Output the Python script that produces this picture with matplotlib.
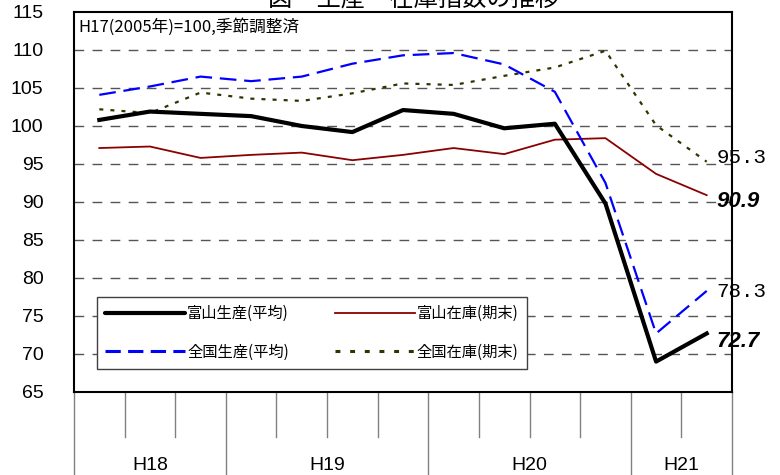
import matplotlib
matplotlib.use('Agg')
import matplotlib.pyplot as plt
from matplotlib.lines import Line2D
import matplotlib.transforms as mtransforms

jp = ['Noto Sans CJK JP', 'DejaVu Sans']
plt.rcParams['font.family'] = ['Liberation Sans', 'DejaVu Sans']

# quarterly index values (H18 Q2 .. H21 Q1)
toyama_prod = [100.8, 101.9, 101.6, 101.3, 100.0, 99.2, 102.1, 101.6, 99.7, 100.3, 89.8, 69.0, 72.7]
toyama_stock = [97.1, 97.3, 95.8, 96.2, 96.5, 95.5, 96.2, 97.1, 96.3, 98.2, 98.4, 93.7, 90.9]
japan_prod = [104.1, 105.2, 106.5, 105.9, 106.5, 108.2, 109.3, 109.6, 108.1, 104.5, 92.5, 72.7, 78.3]
japan_stock = [102.2, 101.7, 104.4, 103.6, 103.3, 104.3, 105.6, 105.4, 106.6, 107.7, 109.9, 100.1, 95.3]

years = ['H18', 'H19', 'H20', 'H21']
year_len = [3, 4, 4, 2]
labels = ['富山生産(平均)', '富山在庫(期末)', '全国生産(平均)', '全国在庫(期末)']

fig = plt.figure(figsize=(7.8, 4.75), dpi=100)
ax = fig.add_axes([74/780, 1-392/475, 658/780, 380/475])

x = list(range(len(toyama_prod)))
ax.set_xlim(-0.5, len(x)-0.5)
ax.set_ylim(65, 115)
ax.set_yticks(range(65, 120, 5))
ax.set_xticks([])
ax.tick_params(axis='y', length=0, pad=22, labelsize=14)
for s in ax.spines.values():
    s.set_linewidth(1.5)
    s.set_color('black')

for v in range(70, 115, 5):
    ax.axhline(v, color='#555555', lw=1.0, ls=(0, (7, 6)), zorder=1)

ax.plot(x, toyama_prod, color='black', lw=3.0, zorder=5)
ax.plot(x, toyama_stock, color='#8b0000', lw=1.3, zorder=4)
ax.plot(x, japan_prod, color='#0000ff', lw=1.6, dashes=(7.5, 3.5), zorder=4)
ax.plot(x, japan_stock, color='#333300', lw=1.6, dashes=(1.8, 3.2), zorder=4)

# category axis below the plot
tr = mtransforms.blended_transform_factory(ax.transData, ax.transAxes)
bounds = [0]
for n in year_len:
    bounds.append(bounds[-1] + n)
for k in range(len(x)+1):
    long_tick = k in bounds
    y1 = -0.23 if long_tick else -0.118
    ax.plot([k-0.5, k-0.5], [0, y1], transform=tr, color='#808080', lw=1.0, clip_on=False)
for i, yr in enumerate(years):
    c = (bounds[i] + bounds[i+1]) / 2 - 0.5
    ax.text(c, -0.205, yr, transform=tr, ha='center', va='baseline', fontsize=14)

ax.text(0.006, 0.947, 'H17(2005年)=100,季節調整済', transform=ax.transAxes,
        ha='left', va='baseline', fontsize=12, family=jp)

# title is partly above the figure edge, as in the original
fig.text(413.5/780, 1-7/475, '図　生産・在庫指数の推移', ha='center', va='baseline',
         fontsize=17.5, family=jp)

# end labels
ax.text(12.2, 95.1, '95.3', ha='left', va='baseline', fontsize=15, family='Liberation Mono', zorder=6)
ax.text(12.2, 89.3, '90.9', ha='left', va='baseline', fontsize=16, weight='bold', style='italic', zorder=6)
ax.text(12.2, 77.5, '78.3', ha='left', va='baseline', fontsize=15, family='Liberation Mono', zorder=6)
ax.text(12.2, 70.9, '72.7', ha='left', va='baseline', fontsize=16, weight='bold', style='italic', zorder=6)

h_tp = Line2D([], [], color='black', lw=3.0, solid_capstyle='round')
h_ts = Line2D([], [], color='#8b0000', lw=1.3)
h_jp = Line2D([], [], color='#0000ff', lw=2.2, dashes=(5, 2.4))
h_js = Line2D([], [], color='#333300', lw=2.2, dashes=(1.6, 3.2))
# legend fills column by column: row 1 = 富山, row 2 = 全国
leg = ax.legend([h_tp, h_jp, h_ts, h_js], [labels[0], labels[2], labels[1], labels[3]],
                ncol=2, loc='lower left',
                bbox_to_anchor=((97-74)/658, (392-369)/380, (527-97)/658, 0.2), mode='expand',
                borderaxespad=0,
                prop={'family': jp, 'size': 11}, handlelength=5.2, handletextpad=0.15,
                labelspacing=1.4, borderpad=0.55, columnspacing=1.5,
                fancybox=False, frameon=True, framealpha=1)
leg.get_frame().set_edgecolor('#404040')
leg.get_frame().set_linewidth(1.0)
leg.set_zorder(7)

fig.savefig('out.png', dpi=100)
